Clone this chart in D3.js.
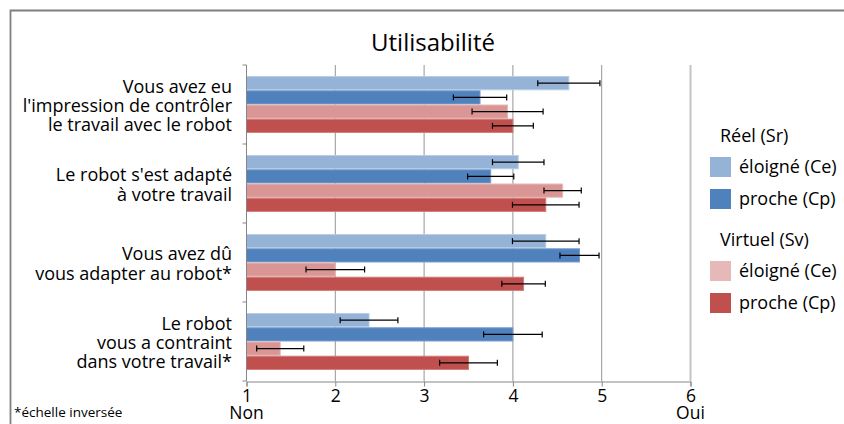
<!DOCTYPE html>
<html><head><meta charset="utf-8">
<script src="https://cdn.jsdelivr.net/npm/d3@7"></script>
<style>
html,body{margin:0;padding:0;background:#fff;}
svg{display:block;font-family:"Open Sans",Lato,sans-serif;}
</style></head>
<body><svg id="c" width="844" height="424"></svg>
<script>
const categories = [
  ["Vous avez eu", "l'impression de contrôler", "le travail avec le robot"],
  ["Le robot s'est adapté", "à votre travail"],
  ["Vous avez dû", "vous adapter au robot*"],
  ["Le robot", "vous a contraint", "dans votre travail*"]
];
const seriesNames = ["Réel éloigné (Ce)", "Réel proche (Cp)", "Virtuel éloigné (Ce)", "Virtuel proche (Cp)"];
const reelEloigne = [4.63, 4.06, 4.37, 2.38];
const reelEloigneErr = [0.35, 0.29, 0.375, 0.325];
const reelProche = [3.63, 3.75, 4.75, 4.0];
const reelProcheErr = [0.30, 0.26, 0.22, 0.33];
const virtEloigne = [3.94, 4.56, 2.0, 1.38];
const virtEloigneErr = [0.40, 0.21, 0.33, 0.265];
const virtProche = [4.0, 4.37, 4.12, 3.5];
const virtProcheErr = [0.23, 0.375, 0.245, 0.325];
const xTicks = [1, 2, 3, 4, 5, 6];
const xEndLabels = ["Non", "Oui"];
const title = "Utilisabilité";
const footnote = "*échelle inversée";
const legendGroups = [
  {title: "Réel (Sr)", items: ["éloigné (Ce)", "proche (Cp)"]},
  {title: "Virtuel (Sv)", items: ["éloigné (Ce)", "proche (Cp)"]}
];

const values = [reelEloigne, reelProche, virtEloigne, virtProche];
const errs = [reelEloigneErr, reelProcheErr, virtEloigneErr, virtProcheErr];
const barColors = ["#95B3D7", "#4F81BD", "#DA9694", "#C0504D"];
const barStrokes = ["#B9CDE5", "#7A9FCF", "#E6B9B8", "#D27C7A"];
const legendColors = ["#95B3D7", "#4F81BD", "#E6B9B8", "#C0504D"];
const FONT = "'Open Sans',Lato,sans-serif";

const svg = d3.select("#c");
const catIdx = categories.map((d, i) => i);

const x = d3.scaleLinear().domain([1, 6]).range([246.5, 690.5]);
const y = d3.scaleBand().domain(catIdx).range([65, 381]).paddingInner(0.28).paddingOuter(0.14);
const ys = d3.scaleBand().domain(d3.range(seriesNames.length)).range([0, y.bandwidth()]);

// frame
svg.append("path").attr("d", "M10.5,424 V10.5 H844").attr("fill", "none")
  .attr("stroke", "#7f7f7f").attr("stroke-width", 1.8);

// title
svg.append("text").attr("x", 433).attr("y", 51).attr("text-anchor", "middle")
  .attr("font-size", 24).attr("fill", "#000").text(title);

// gridlines
svg.append("g").selectAll("line").data(xTicks.slice(1)).join("line")
  .attr("x1", d => x(d)).attr("x2", d => x(d))
  .attr("y1", 65).attr("y2", 381)
  .attr("stroke", d => d === 6 ? "#C4C4C4" : "#959595")
  .attr("stroke-width", d => d === 6 ? 2 : 1);

// bars
const g = svg.append("g");
catIdx.forEach(ci => {
  values.forEach((vals, si) => {
    const y0 = y(ci) + ys(si);
    g.append("rect")
      .attr("x", x(1)).attr("y", y0 + 0.5)
      .attr("width", x(vals[ci]) - x(1)).attr("height", ys.bandwidth() - 1)
      .attr("fill", barColors[si]).attr("stroke", barStrokes[si]).attr("stroke-width", 1);
  });
});

// error bars
catIdx.forEach(ci => {
  values.forEach((vals, si) => {
    const cy = y(ci) + ys(si) + ys.bandwidth() / 2;
    const lo = x(vals[ci] - errs[si][ci]), hi = x(vals[ci] + errs[si][ci]);
    g.append("line").attr("x1", lo).attr("x2", hi).attr("y1", cy).attr("y2", cy)
      .attr("stroke", "#000").attr("stroke-width", 1.2);
    [lo, hi].forEach(px => g.append("line").attr("x1", px).attr("x2", px)
      .attr("y1", cy - 3).attr("y2", cy + 3).attr("stroke", "#000").attr("stroke-width", 1.2));
  });
});

// y axis
const yAx = svg.append("g").attr("stroke", "#868686").attr("stroke-width", 1);
yAx.append("line").attr("x1", x(1)).attr("x2", x(1)).attr("y1", 65).attr("y2", 381);
const bounds = catIdx.map(i => y(i) - y.step() * y.paddingOuter()).concat([381]);
yAx.selectAll(".yt").data(bounds).join("line")
  .attr("x1", x(1) - 4).attr("x2", x(1)).attr("y1", d => d).attr("y2", d => d);

// x axis
const xAxis = d3.axisBottom(x).tickValues(xTicks).tickSize(5).tickFormat(d3.format("d"));
const xa = svg.append("g").attr("transform", "translate(0,381.5)").call(xAxis);
xa.select(".domain").attr("stroke", "#868686");
xa.selectAll(".tick line").attr("stroke", "#868686");
xa.selectAll(".tick text").attr("font-size", 17.5).attr("fill", "#000")
  .attr("font-family", FONT).attr("dy", null).attr("y", 20.5);
svg.append("g").selectAll("text").data(xEndLabels).join("text")
  .attr("x", (d, i) => x(i === 0 ? xTicks[0] : xTicks[xTicks.length - 1]))
  .attr("y", 418.5).attr("text-anchor", "middle").attr("font-size", 17.5).attr("fill", "#000")
  .text(d => d);

// category labels (one text element per category, one tspan per line)
const cl = svg.append("g");
catIdx.forEach(ci => {
  const lines = categories[ci];
  const cy = y(ci) + y.bandwidth() / 2;
  const lh = 19.3;
  const t = cl.append("text").attr("text-anchor", "end").attr("font-size", 18).attr("fill", "#000");
  lines.forEach((s, li) => {
    t.append("tspan").attr("x", 232)
      .attr("y", cy + (li - (lines.length - 1) / 2) * lh + 7.5)
      .text(s);
  });
});

// footnote
svg.append("text").attr("x", 14).attr("y", 417).attr("font-size", 13.5).attr("fill", "#000").text(footnote);

// legend
const lg = svg.append("g");
let ly = 142;
let k = 0;
legendGroups.forEach((grp) => {
  lg.append("text").attr("x", 720).attr("y", ly).attr("font-size", 18).attr("fill", "#000").text(grp.title);
  grp.items.forEach((it, ii) => {
    const sy = ly + 15 + ii * 32;
    lg.append("rect").attr("x", 710).attr("y", sy).attr("width", 21).attr("height", 20).attr("fill", legendColors[k]);
    lg.append("text").attr("x", 739).attr("y", sy + 15.5).attr("font-size", 18).attr("fill", "#000").text(it);
    k++;
  });
  ly += 104;
});
</script></body></html>
